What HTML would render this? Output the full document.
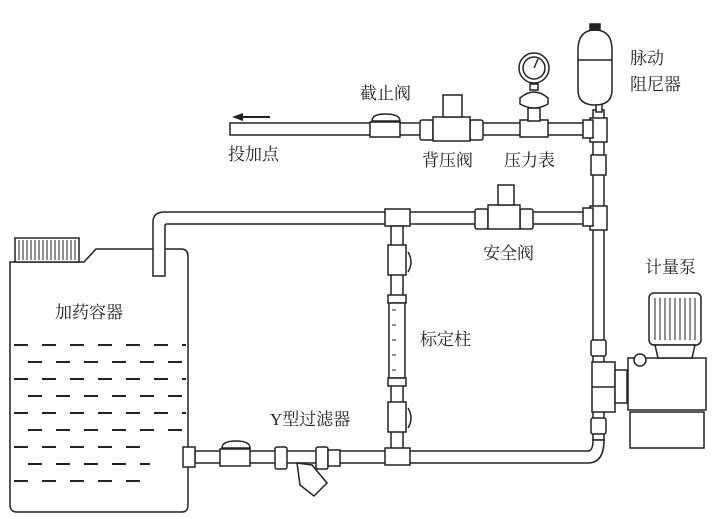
<!DOCTYPE html>
<html><head><meta charset="utf-8"><style>
html,body{margin:0;padding:0;background:#fff}
svg{display:block}
text{font-family:"Liberation Serif","Noto Serif CJK SC","Noto Sans CJK SC",serif;font-size:17px;fill:#222}
</style></head><body>
<svg width="722" height="519" viewBox="0 0 722 519" xmlns="http://www.w3.org/2000/svg">
<g fill="#fff" stroke="#222" stroke-width="1.5">
<!-- tank -->
<path d="M10 262 L10 505 Q10 512 17 512 L182 512 Q188 512 188 505 L188 256 Q188 249 181 249 L96 249 L84 262 Z"/>
<rect x="15" y="238" width="64" height="24"/>
<g stroke-width="1">
<line x1="19" y1="240" x2="19" y2="260"/><line x1="23" y1="240" x2="23" y2="260"/><line x1="27" y1="240" x2="27" y2="260"/><line x1="31" y1="240" x2="31" y2="260"/><line x1="35" y1="240" x2="35" y2="260"/><line x1="39" y1="240" x2="39" y2="260"/><line x1="43" y1="240" x2="43" y2="260"/><line x1="47" y1="240" x2="47" y2="260"/><line x1="51" y1="240" x2="51" y2="260"/><line x1="55" y1="240" x2="55" y2="260"/><line x1="59" y1="240" x2="59" y2="260"/><line x1="63" y1="240" x2="63" y2="260"/><line x1="67" y1="240" x2="67" y2="260"/><line x1="71" y1="240" x2="71" y2="260"/><line x1="75" y1="240" x2="75" y2="260"/>
</g>
<!-- dashed liquid -->
<g stroke-width="2" stroke-dasharray="14 14">
<line x1="14" y1="345" x2="186" y2="345"/><line x1="28" y1="362" x2="186" y2="362"/><line x1="14" y1="379" x2="186" y2="379"/><line x1="28" y1="396" x2="186" y2="396"/><line x1="14" y1="413" x2="186" y2="413"/><line x1="28" y1="430" x2="186" y2="430"/><line x1="14" y1="447" x2="140" y2="447"/><line x1="28" y1="464" x2="150" y2="464"/><line x1="14" y1="481" x2="140" y2="481"/>
</g>
<!-- upper return pipe -->
<path d="M153 276 L153 222 Q153 212 165 212 L598 212 L598 224 L167 224 Q165 224 165 226 L165 276 Z"/>
<!-- top pipe -->
<rect x="230" y="123" width="370" height="12"/>
<!-- right vertical pipe -->
<rect x="593" y="110" width="11" height="330"/>
<!-- bottom pipe with bend -->
<path d="M195 451 L588 451 Q593 451 593 440 L604 440 Q604 463 588 463 L195 463 Z"/>
<!-- tees on right -->
<rect x="590" y="118" width="17" height="24"/>
<rect x="583" y="120" width="10" height="18"/>
<rect x="590" y="206" width="17" height="24"/>
<rect x="583" y="208" width="10" height="18"/>
<rect x="591" y="155" width="15" height="20"/>
<!-- damper -->
<rect x="596" y="100" width="6" height="12"/>
<path d="M578 50 Q578 30 595 30 Q612 30 612 50 L612 90 Q612 105 595 105 Q578 105 578 90 Z"/>
<line x1="578" y1="60" x2="612" y2="60"/>
<rect x="590" y="24" width="10" height="6" fill="#222"/>
<!-- gauge -->
<rect x="520" y="120" width="28" height="17"/>
<rect x="528" y="108" width="12" height="13"/>
<path d="M520 98 Q534 86 548 98 L548 104 Q534 112 520 104 Z"/>
<rect x="530" y="84" width="8" height="6"/>
<circle cx="534" cy="68" r="15"/>
<circle cx="534" cy="68" r="11"/>
<line x1="534" y1="68" x2="538" y2="59"/>
<!-- back pressure valve -->
<rect x="420" y="120" width="13" height="20" rx="2"/>
<rect x="470" y="120" width="13" height="20" rx="2"/>
<rect x="433" y="117" width="37" height="24"/>
<rect x="443" y="95" width="19" height="22"/>
<!-- stop valve -->
<rect x="370" y="122" width="30" height="15"/>
<path d="M372 121 Q372 114 385 114 Q400 114 400 121 Z"/>
<!-- safety valve -->
<rect x="475" y="209" width="13" height="20" rx="2"/>
<rect x="520" y="209" width="13" height="20" rx="2"/>
<rect x="488" y="205" width="32" height="24"/>
<rect x="498" y="185" width="16" height="20"/>
<!-- tee on return -->
<rect x="385" y="209" width="25" height="17"/>
<!-- calibration column -->
<rect x="391" y="226" width="12" height="228"/>
<rect x="388" y="245" width="18" height="30"/>
<path d="M408 252 Q414 262 408 272"/>
<rect x="388" y="295" width="18" height="8"/>
<rect x="389" y="303" width="16" height="75"/>
<rect x="388" y="378" width="18" height="8"/>
<rect x="388" y="402" width="18" height="30"/>
<path d="M408 408 Q414 418 408 428"/>
<rect x="385" y="448" width="25" height="17"/>
<!-- bottom fittings -->
<rect x="183" y="447" width="12" height="20"/>
<rect x="220" y="449" width="30" height="17"/>
<path d="M222 448 Q222 441 236 441 Q250 441 250 448 Z"/>
<rect x="275" y="447" width="12" height="22" rx="2"/>
<rect x="316" y="447" width="12" height="22" rx="2"/>
<rect x="328" y="450" width="12" height="16"/>
<path d="M297 463 L312 465 L327 483 L314 496 L300 485 Z"/>
<!-- pump -->
<rect x="592" y="362" width="23" height="50"/>
<line x1="592" y1="387" x2="615" y2="387"/>
<rect x="591" y="340" width="15" height="16" rx="2"/>
<rect x="591" y="418" width="15" height="16" rx="2"/>
<rect x="615" y="370" width="12" height="33"/>
<rect x="628" y="358" width="78" height="52"/>
<rect x="630" y="412" width="74" height="36"/>
<rect x="649" y="293" width="52" height="52" rx="5"/>
<path d="M655 345 L695 345 L692 358 L658 358 Z"/>
<circle cx="640" cy="360" r="6"/>
</g>
<g stroke="#222" stroke-width="1">
<line x1="655" y1="298" x2="655" y2="340"/><line x1="660" y1="298" x2="660" y2="340"/><line x1="665" y1="298" x2="665" y2="340"/><line x1="670" y1="298" x2="670" y2="340"/><line x1="675" y1="298" x2="675" y2="340"/><line x1="680" y1="298" x2="680" y2="340"/><line x1="685" y1="298" x2="685" y2="340"/><line x1="690" y1="298" x2="690" y2="340"/><line x1="695" y1="298" x2="695" y2="340"/>
<line x1="392" y1="310" x2="396" y2="310"/><line x1="392" y1="325" x2="396" y2="325"/><line x1="392" y1="340" x2="396" y2="340"/><line x1="392" y1="355" x2="396" y2="355"/><line x1="392" y1="370" x2="396" y2="370"/>
</g>
<!-- arrow -->
<line x1="240" y1="117" x2="270" y2="117" stroke="#222" stroke-width="2"/>
<path d="M232 117 L243 113 L243 121 Z" fill="#222"/>
<text x="360" y="99">截止阀</text>
<text x="228" y="160">投加点</text>
<text x="422" y="166">背压阀</text>
<text x="504" y="166">压力表</text>
<text x="630" y="64">脉动</text>
<text x="630" y="90">阻尼器</text>
<text x="483" y="259">安全阀</text>
<text x="645" y="273">计量泵</text>
<text x="55" y="318">加药容器</text>
<text x="420" y="345">标定柱</text>
<text x="270" y="425">Y型过滤器</text>
</svg>
</body></html>
